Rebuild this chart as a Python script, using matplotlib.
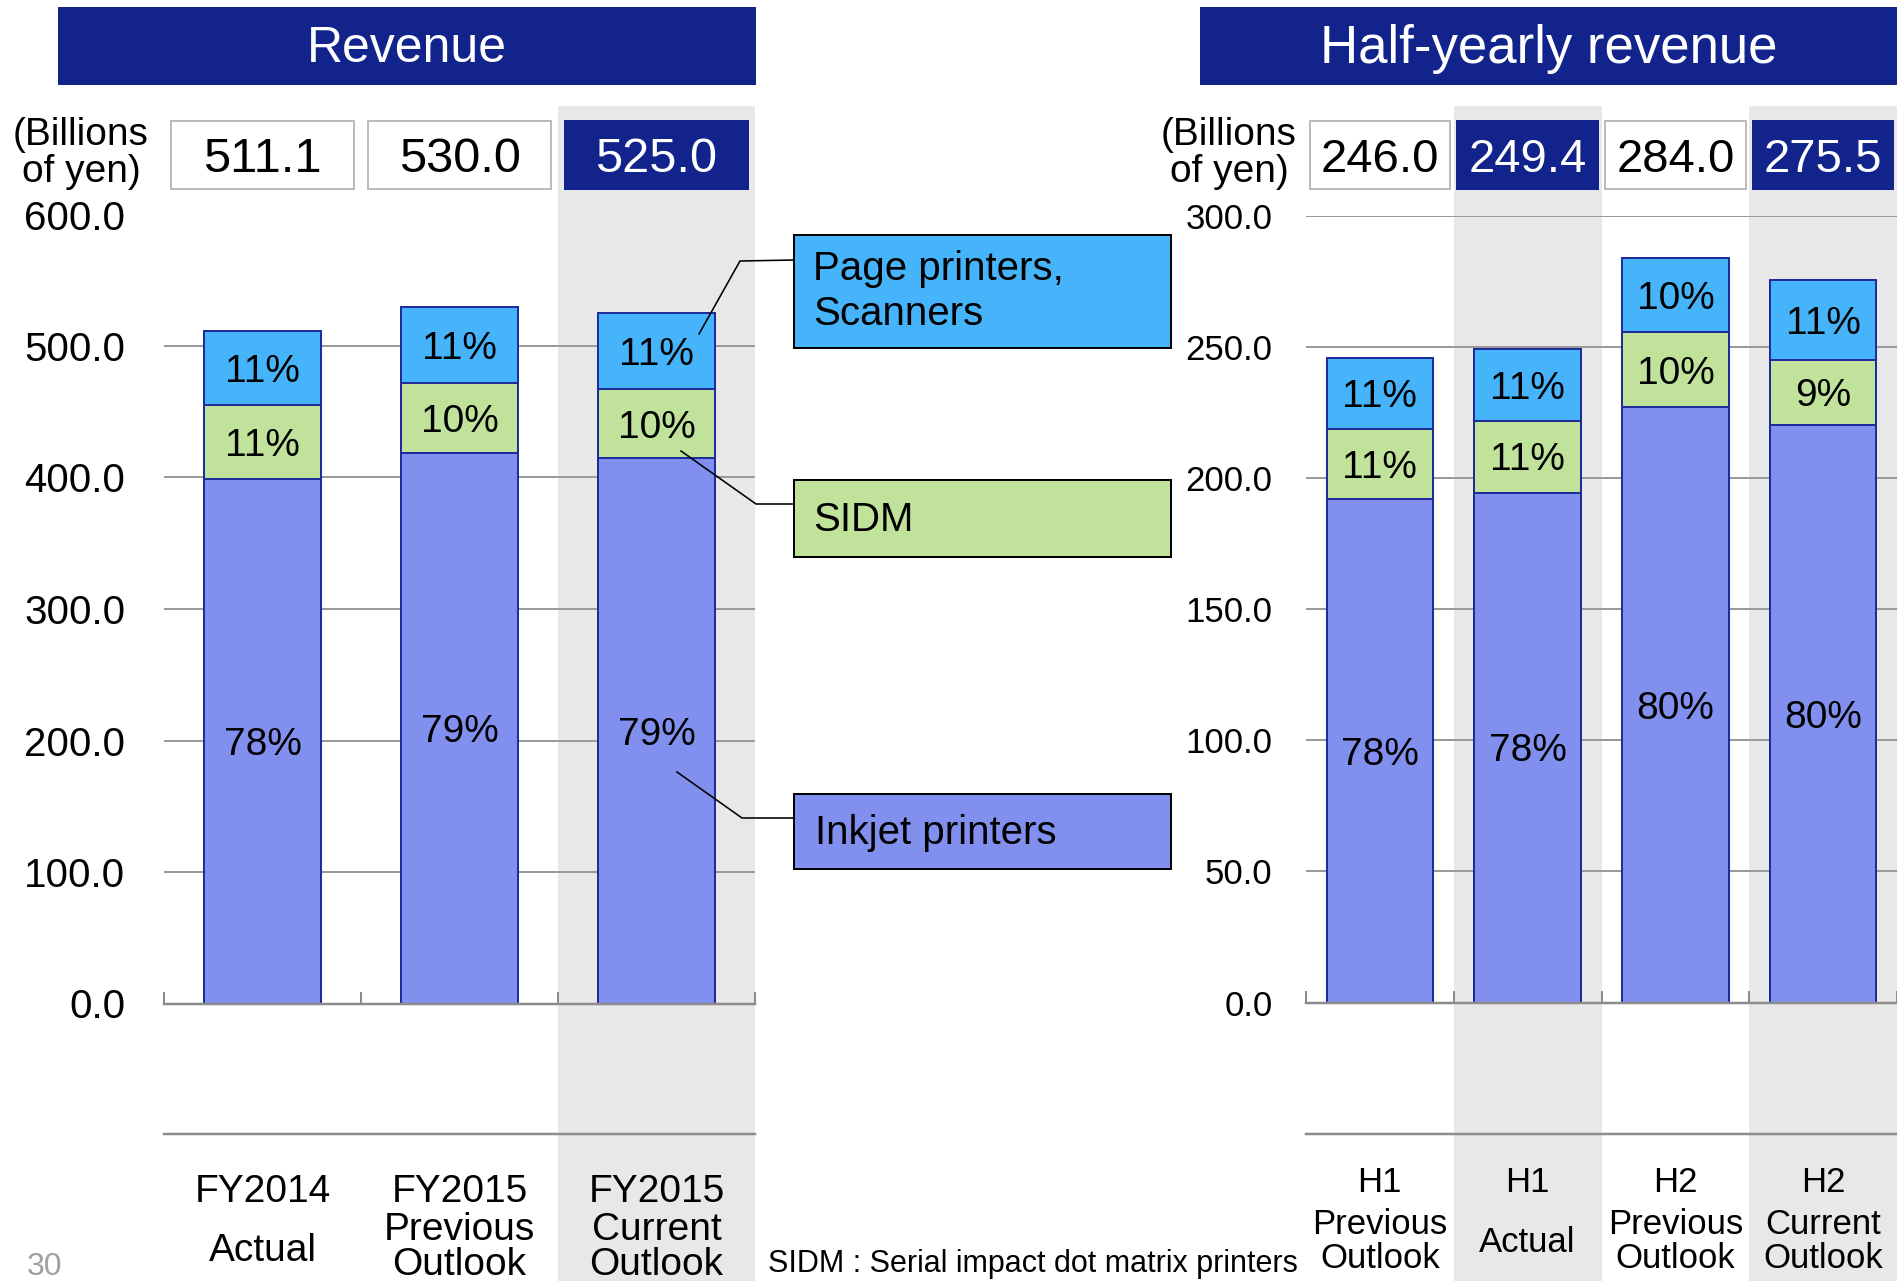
import matplotlib
matplotlib.use("Agg")
import matplotlib.pyplot as plt
from matplotlib.patches import Rectangle
from matplotlib.lines import Line2D
from matplotlib.transforms import blended_transform_factory, offset_copy

# ---------------------------------------------------------------- data
annual_labels = ["FY2014\nActual", "FY2015\nPrevious\nOutlook", "FY2015\nCurrent\nOutlook"]
annual_totals = [511.1, 530.0, 525.0]
annual_inkjet_pct = [78, 79, 79]
annual_sidm_pct = [11, 10, 10]
annual_page_pct = [11, 11, 11]
annual_highlight = [False, False, True]

half_labels = ["H1\nPrevious\nOutlook", "H1\nActual", "H2\nPrevious\nOutlook", "H2\nCurrent\nOutlook"]
half_totals = [246.0, 249.4, 284.0, 275.5]
half_inkjet_pct = [78, 78, 80, 80]
half_sidm_pct = [11, 11, 10, 9]
half_page_pct = [11, 11, 10, 11]
half_highlight = [False, True, False, True]

annual_yticks = [0, 100, 200, 300, 400, 500, 600]
half_yticks = [0, 50, 100, 150, 200, 250, 300]

segment_names = ["Inkjet printers", "SIDM", "Page printers,\nScanners"]
footnote = "SIDM : Serial impact dot matrix printers"

# ---------------------------------------------------------------- style
W, H = 1897, 1281
NAVY = "#12238C"
C_INKJET = "#8190EE"
C_SIDM = "#C0E29A"
C_PAGE = "#46B4FA"
EDGE = "#1E2C9C"
BAND = "#E8E8E8"
GRID = "#9A9A9A"
PX = 0.72  # points per pixel at 100 dpi
CAP = 0.358  # half cap-height of the font, in em

plt.rcParams['font.family'] = ['Liberation Sans', 'DejaVu Sans']

fig = plt.figure(figsize=(W / 100, H / 100), dpi=100)
fig.patch.set_facecolor("white")


def fx(px):
    return px / W


def fy(py):
    return 1 - py / H


def ctext(target, x, y, s, transform, fs, **kw):
    """Text whose capitals are vertically centred on (x, y)."""
    tr = offset_copy(transform, fig=fig, y=-CAP * fs, units="points")
    return target.text(x, y, s, transform=tr, va="baseline", fontsize=fs, **kw)


def fig_rect(x0, y0, x1, y1, **kw):
    r = Rectangle((fx(x0), fy(y1)), (x1 - x0) / W, (y1 - y0) / H,
                  transform=fig.transFigure, **kw)
    fig.add_artist(r)
    return r


def make_panel(left_px, right_px, top_px, zero_px, ymax, yticks, totals,
               ink_pct, sidm_pct, page_pct, highlight, labels, bar_w,
               tick_fs, tick_pad, pct_fs, box_fs, box_frac, cat_fs, cat_y):
    ax = fig.add_axes([fx(left_px), fy(zero_px), (right_px - left_px) / W,
                       (zero_px - top_px) / H])
    ax.set_facecolor("none")
    n = len(totals)
    ax.set_xlim(-0.5, n - 0.5)
    ax.set_ylim(0, ymax)
    blend = blended_transform_factory(ax.transData, fig.transFigure)

    # shaded columns behind highlighted categories
    for i, hl in enumerate(highlight):
        if hl:
            r = Rectangle((i - 0.5, 0), 1.0, fy(106), transform=blend,
                          facecolor=BAND, edgecolor="none", zorder=-5,
                          clip_on=False)
            ax.add_patch(r)

    xs = list(range(n))
    ink = [t * p / 100 for t, p in zip(totals, ink_pct)]
    sidm = [t * p / 100 for t, p in zip(totals, sidm_pct)]
    page = [t * p / 100 for t, p in zip(totals, page_pct)]
    base2 = ink
    base3 = [a + b for a, b in zip(ink, sidm)]
    kw = dict(width=bar_w, edgecolor=EDGE, linewidth=2 * PX, zorder=3)
    ax.bar(xs, ink, color=C_INKJET, **kw)
    ax.bar(xs, sidm, bottom=base2, color=C_SIDM, **kw)
    ax.bar(xs, page, bottom=base3, color=C_PAGE, **kw)

    for i in xs:
        ctext(ax, i, ink[i] / 2, f"{ink_pct[i]}%", ax.transData, pct_fs,
              ha="center", zorder=4)
        ctext(ax, i, base2[i] + sidm[i] / 2, f"{sidm_pct[i]}%", ax.transData,
              pct_fs, ha="center", zorder=4)
        ctext(ax, i, base3[i] + page[i] / 2, f"{page_pct[i]}%", ax.transData,
              pct_fs, ha="center", zorder=4)

    # axes styling
    ax.set_yticks(yticks)
    ax.set_yticklabels([f"{v:.1f}" for v in yticks])
    ax.yaxis.grid(True, color=GRID, linewidth=2 * PX)
    ax.set_axisbelow(True)
    ax.tick_params(axis="y", length=0, pad=tick_pad, labelsize=tick_fs)
    ax.set_xticks([i - 0.5 for i in range(n + 1)])
    ax.set_xticklabels([])
    ax.tick_params(axis="x", direction="in", length=12 * PX, width=2 * PX,
                   color="#8C8C8C")
    for s in ["top", "right", "left"]:
        ax.spines[s].set_visible(False)
    ax.spines["bottom"].set_color("#8C8C8C")
    ax.spines["bottom"].set_linewidth(2.5 * PX)
    ax.spines["bottom"].set_zorder(5)

    # lower rule beneath the bars
    ax.add_line(Line2D([-0.5, n - 0.5], [fy(1134), fy(1134)], transform=blend,
                       color="#8C8C8C", linewidth=2.5 * PX, clip_on=False))

    # total value boxes above the plot
    for i, (t, hl) in enumerate(zip(totals, highlight)):
        r = Rectangle((i - box_frac / 2, fy(189)), box_frac, (189 - 121) / H,
                      transform=blend, clip_on=False, zorder=6,
                      facecolor=NAVY if hl else "white",
                      edgecolor=NAVY if hl else "#BBBBBB", linewidth=2 * PX)
        ax.add_patch(r)
        ctext(ax, i, fy(155), f"{t:.1f}", blend, box_fs, ha="center",
              zorder=7, color="white" if hl else "black")

    # category labels
    y1, y2, y3, ymid = cat_y
    for i, lab in enumerate(labels):
        lines = lab.split("\n")
        ctext(ax, i, fy(y1), lines[0], blend, cat_fs, ha="center")
        if len(lines) == 3:
            ctext(ax, i, fy(y2), lines[1], blend, cat_fs, ha="center")
            ctext(ax, i, fy(y3), lines[2], blend, cat_fs, ha="center")
        else:
            ctext(ax, i, fy(ymid), lines[1], blend, cat_fs, ha="center")
    return ax


ax_l = make_panel(164, 755, 214.5, 1003.5, 600, annual_yticks, annual_totals,
                  annual_inkjet_pct, annual_sidm_pct, annual_page_pct,
                  annual_highlight, annual_labels, 0.59,
                  tick_fs=29, tick_pad=28, pct_fs=28, box_fs=35,
                  box_frac=0.924, cat_fs=28, cat_y=(1188, 1226, 1261, 1247))

ax_r = make_panel(1306, 1897, 216, 1002.5, 300, half_yticks, half_totals,
                  half_inkjet_pct, half_sidm_pct, half_page_pct,
                  half_highlight, half_labels, 0.72,
                  tick_fs=25, tick_pad=24, pct_fs=28, box_fs=34,
                  box_frac=0.95, cat_fs=25, cat_y=(1180, 1222, 1256, 1240))

# ---------------------------------------------------------------- headers
ft = fig.transFigure
fig_rect(58, 7, 756, 85, facecolor=NAVY, edgecolor="none", zorder=5)
ctext(fig, fx(407), fy(44), "Revenue", ft, 36, ha="center", color="white",
      zorder=6)
fig_rect(1200, 7, 1897, 85, facecolor=NAVY, edgecolor="none", zorder=5)
ctext(fig, fx(1549), fy(44), "Half-yearly revenue", ft, 38, ha="center",
      color="white", zorder=6)

for cx in (81, 1229):
    ctext(fig, fx(cx), fy(131), "(Billions", ft, 28, ha="center")
    ctext(fig, fx(cx), fy(168), "of yen)", ft, 28, ha="center")

# ---------------------------------------------------------------- legend callouts
fig_rect(794, 235, 1171, 348, facecolor=C_PAGE, edgecolor="black",
         linewidth=2 * PX, zorder=5)
page_lines = segment_names[2].split("\n")
ctext(fig, fx(813), fy(266), page_lines[0], ft, 29, ha="left", zorder=6)
ctext(fig, fx(813), fy(311), page_lines[1], ft, 29, ha="left", zorder=6)
fig_rect(794, 480, 1171, 557, facecolor=C_SIDM, edgecolor="black",
         linewidth=2 * PX, zorder=5)
ctext(fig, fx(813), fy(517), segment_names[1], ft, 29, ha="left", zorder=6)
fig_rect(794, 794, 1171, 869, facecolor=C_INKJET, edgecolor="black",
         linewidth=2 * PX, zorder=5)
ctext(fig, fx(815), fy(830), segment_names[0], ft, 29, ha="left", zorder=6)

leaders = [
    [(699, 334), (740, 261), (794, 260)],
    [(681, 451), (756, 504), (794, 504)],
    [(677, 772), (742, 818), (794, 818)],
]
for pts in leaders:
    fig.add_artist(Line2D([fx(p[0]) for p in pts], [fy(p[1]) for p in pts],
                          transform=ft, color="black",
                          linewidth=1.6 * PX, zorder=8))

# ---------------------------------------------------------------- footer
ctext(fig, fx(768), fy(1261), footnote, ft, 22, ha="left")
ctext(fig, fx(27), fy(1264), "30", ft, 23, ha="left", color="#A0A0A0")

fig.savefig("out.png", dpi=100)
